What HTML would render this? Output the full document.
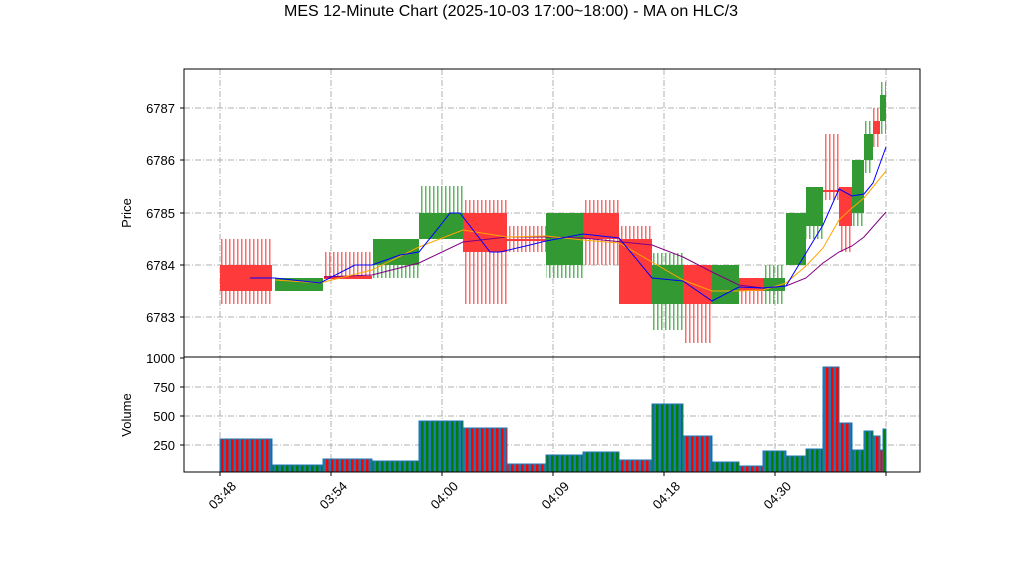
<!DOCTYPE html>
<html><head><style>body{margin:0;background:#fff}svg{display:block}</style></head><body>
<svg width="1022" height="575" xmlns="http://www.w3.org/2000/svg" font-family="Liberation Sans, sans-serif">
<defs>
<pattern id="wr" width="4" height="10" patternUnits="userSpaceOnUse"><rect x="1" width="1.5" height="10" fill="#ff6a6a"/></pattern>
<pattern id="wg" width="4" height="10" patternUnits="userSpaceOnUse"><rect x="1" width="1.5" height="10" fill="#5cb85c"/></pattern>
<pattern id="vr" width="5" height="10" patternUnits="userSpaceOnUse"><rect width="5" height="10" fill="#1f77b4"/><rect x="1" width="2.5" height="10" fill="#ff0000"/></pattern>
<pattern id="vg" width="5" height="10" patternUnits="userSpaceOnUse"><rect width="5" height="10" fill="#1f77b4"/><rect x="1" width="2.5" height="10" fill="#008000"/></pattern>
</defs>
<text x="511" y="16" font-size="16" text-anchor="middle">MES 12-Minute Chart (2025-10-03 17:00~18:00) - MA on HLC/3</text>
<g stroke="#b0b0b0" stroke-dasharray="6,2,1,2" stroke-width="1">
<path d="M184 108H920M184 160H920M184 213H920M184 265H920M184 317H920"/>
<path d="M184 387H920M184 416H920M184 445H920"/>
<path d="M220 69V472M331 69V472M442 69V472M553 69V472M664 69V472M775 69V472M886 69V472"/>
</g>
<g>
<rect x="220" y="239" width="52" height="65" fill="url(#wr)"/>
<rect x="324" y="252" width="48" height="27" fill="url(#wr)"/>
<rect x="373" y="239" width="46" height="39" fill="url(#wg)"/>
<rect x="419" y="186" width="44" height="53" fill="url(#wg)"/>
<rect x="463" y="200" width="44" height="104" fill="url(#wr)"/>
<rect x="507" y="226" width="39" height="26" fill="url(#wr)"/>
<rect x="546" y="213" width="37" height="65" fill="url(#wg)"/>
<rect x="583" y="200" width="36" height="65" fill="url(#wr)"/>
<rect x="619" y="226" width="33" height="78" fill="url(#wr)"/>
<rect x="652" y="253" width="31" height="77" fill="url(#wg)"/>
<rect x="683" y="265" width="29" height="78" fill="url(#wr)"/>
<rect x="739" y="278" width="24" height="26" fill="url(#wr)"/>
<rect x="763" y="265" width="22" height="39" fill="url(#wg)"/>
<rect x="806" y="187" width="17" height="52" fill="url(#wg)"/>
<rect x="823" y="134" width="16" height="66" fill="url(#wr)"/>
<rect x="839" y="187" width="13" height="65" fill="url(#wr)"/>
<rect x="852" y="160" width="12" height="66" fill="url(#wg)"/>
<rect x="864" y="121" width="9" height="52" fill="url(#wg)"/>
<rect x="873" y="108" width="7" height="39" fill="url(#wr)"/>
<rect x="880" y="82" width="6" height="52" fill="url(#wg)"/>
</g>
<g>
<rect x="220" y="265" width="52" height="26" fill="#ff3a3a"/>
<rect x="275" y="278" width="48" height="13" fill="#339933"/>
<rect x="324" y="276" width="48" height="3" fill="#ff3a3a"/>
<rect x="373" y="239" width="46" height="26" fill="#339933"/>
<rect x="419" y="213" width="44" height="26" fill="#339933"/>
<rect x="463" y="213" width="44" height="39" fill="#ff3a3a"/>
<rect x="507" y="239" width="39" height="2" fill="#ff3a3a"/>
<rect x="546" y="213" width="37" height="52" fill="#339933"/>
<rect x="583" y="213" width="36" height="26" fill="#ff3a3a"/>
<rect x="619" y="239" width="33" height="65" fill="#ff3a3a"/>
<rect x="652" y="265" width="31" height="39" fill="#339933"/>
<rect x="683" y="265" width="29" height="39" fill="#ff3a3a"/>
<rect x="712" y="265" width="27" height="39" fill="#339933"/>
<rect x="739" y="278" width="24" height="13" fill="#ff3a3a"/>
<rect x="763" y="278" width="22" height="13" fill="#339933"/>
<rect x="786" y="213" width="20" height="52" fill="#339933"/>
<rect x="806" y="187" width="17" height="39" fill="#339933"/>
<rect x="823" y="190" width="16" height="2" fill="#ff3a3a"/>
<rect x="839" y="187" width="13" height="39" fill="#ff3a3a"/>
<rect x="852" y="160" width="12" height="53" fill="#339933"/>
<rect x="864" y="134" width="9" height="26" fill="#339933"/>
<rect x="873" y="121" width="7" height="13" fill="#ff3a3a"/>
<rect x="880" y="95" width="6" height="26" fill="#339933"/>
</g>
<g stroke="#1f77b4" stroke-width="1">
<rect x="220" y="439" width="52" height="33" fill="url(#vr)"/>
<rect x="272" y="465" width="51" height="7" fill="url(#vg)"/>
<rect x="323" y="459" width="49" height="13" fill="url(#vr)"/>
<rect x="372" y="461" width="47" height="11" fill="url(#vg)"/>
<rect x="419" y="421" width="44" height="51" fill="url(#vg)"/>
<rect x="463" y="428" width="44" height="44" fill="url(#vr)"/>
<rect x="507" y="464" width="39" height="8" fill="url(#vr)"/>
<rect x="546" y="455" width="37" height="17" fill="url(#vg)"/>
<rect x="583" y="452" width="36" height="20" fill="url(#vg)"/>
<rect x="619" y="460" width="33" height="12" fill="url(#vr)"/>
<rect x="652" y="404" width="31" height="68" fill="url(#vg)"/>
<rect x="683" y="436" width="29" height="36" fill="url(#vr)"/>
<rect x="712" y="462" width="27" height="10" fill="url(#vg)"/>
<rect x="739" y="466" width="24" height="6" fill="url(#vr)"/>
<rect x="763" y="451" width="23" height="21" fill="url(#vg)"/>
<rect x="786" y="456" width="20" height="16" fill="url(#vg)"/>
<rect x="806" y="449" width="17" height="23" fill="url(#vg)"/>
<rect x="823" y="367" width="16" height="105" fill="url(#vr)"/>
<rect x="839" y="423" width="13" height="49" fill="url(#vr)"/>
<rect x="852" y="450" width="12" height="22" fill="url(#vg)"/>
<rect x="864" y="431" width="9" height="41" fill="url(#vg)"/>
<rect x="873" y="436" width="7" height="36" fill="url(#vr)"/>
<rect x="880" y="450" width="3" height="22" fill="#ff0000"/>
<rect x="883" y="429" width="3" height="43" fill="#008000"/>
</g>
<g fill="none" stroke-width="1">
<polyline stroke="#800080" points="324,277 372,275 419,263 463,242 507,237 546,237 583,238 652,245 683,257 712,272 739,285 763,288 786,286 806,278 823,263 839,252 852,246 864,237 886,212"/>
<polyline stroke="#ffa500" points="275,280 320,283 372,270 419,247 463,230 507,237 546,236 583,240 619,243 652,262 683,280 712,291 739,291 763,290 786,283 806,266 823,248 839,220 852,208 864,198 886,171"/>
<polyline stroke="#0000ff" points="250,278 275,278 320,283 355,265 372,265 400,255 419,252 440,226 450,213 460,213 490,252 500,252 530,245 546,241 583,234 619,238 652,278 683,281 712,301 739,287 763,288 786,286 806,253 823,225 839,189 852,196 864,194 873,183 886,147"/>
</g>
<rect x="184" y="69" width="736" height="288" fill="none" stroke="#000"/>
<rect x="184" y="357" width="736" height="115" fill="none" stroke="#000"/>
<g font-size="13" text-anchor="end">
<text x="175" y="113">6787</text><text x="175" y="165">6786</text><text x="175" y="218">6785</text><text x="175" y="270">6784</text><text x="175" y="322">6783</text>
<text x="175" y="363">1000</text><text x="175" y="392">750</text><text x="175" y="421">500</text><text x="175" y="450">250</text>
</g>
<g stroke="#000"><path d="M180 108h4M180 160h4M180 213h4M180 265h4M180 317h4M180 358h4M180 387h4M180 416h4M180 445h4M220 472v4M331 472v4M442 472v4M553 472v4M664 472v4M775 472v4M886 472v4"/></g>
<text transform="translate(131,213) rotate(-90)" font-size="13" text-anchor="middle">Price</text>
<text transform="translate(131,415) rotate(-90)" font-size="13" text-anchor="middle">Volume</text>
<g font-size="13" text-anchor="end">
<text transform="translate(237,487) rotate(-45)">03:48</text>
<text transform="translate(348,487) rotate(-45)">03:54</text>
<text transform="translate(459,487) rotate(-45)">04:00</text>
<text transform="translate(570,487) rotate(-45)">04:09</text>
<text transform="translate(681,487) rotate(-45)">04:18</text>
<text transform="translate(792,487) rotate(-45)">04:30</text>
</g>
</svg>
</body></html>
